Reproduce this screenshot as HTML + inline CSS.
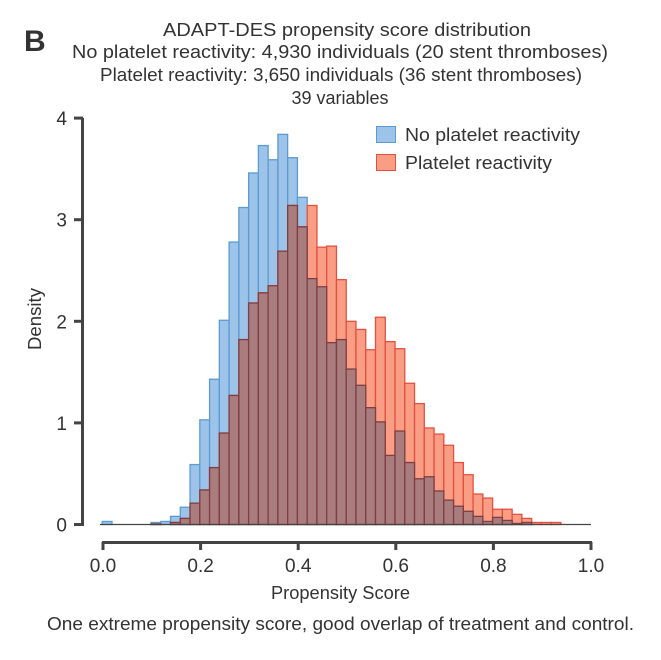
<!DOCTYPE html>
<html><head><meta charset="utf-8">
<style>
body{margin:0;background:#fff;width:661px;height:655px;overflow:hidden;font-family:"Liberation Sans","DejaVu Sans",sans-serif;}
svg text{font-family:"Liberation Sans","DejaVu Sans",sans-serif;fill:#333;}
</style></head>
<body>
<svg id="chart" width="661" height="655" viewBox="0 0 661 655" xmlns="http://www.w3.org/2000/svg">
<text x="24" y="51" font-size="30" font-weight="bold" fill="#222">B</text>
<g font-size="18">
<text x="163" y="36" textLength="368" lengthAdjust="spacingAndGlyphs">ADAPT-DES propensity score distribution</text>
<text x="72" y="58" textLength="536" lengthAdjust="spacingAndGlyphs">No platelet reactivity: 4,930 individuals (20 stent thromboses)</text>
<text x="100" y="81" textLength="482" lengthAdjust="spacingAndGlyphs">Platelet reactivity: 3,650 individuals (36 stent thromboses)</text>
<text x="340" y="104" text-anchor="middle">39 variables</text>
</g>
<g id="bars"></g>
<line x1="82.5" y1="118" x2="82.5" y2="526" stroke="#444" stroke-width="3"/>
<line x1="100" y1="524.5" x2="591" y2="524.5" stroke="#444" stroke-width="1.2"/>
<line x1="102" y1="542.5" x2="592" y2="542.5" stroke="#444" stroke-width="3"/>
<g id="yticks"></g>
<g id="xticks"></g>
<text transform="translate(41,319) rotate(-90)" text-anchor="middle" font-size="18" textLength="62" lengthAdjust="spacingAndGlyphs">Density</text>
<text x="271" y="599" font-size="18" textLength="139" lengthAdjust="spacingAndGlyphs">Propensity Score</text>
<text x="47" y="630" font-size="18" textLength="587" lengthAdjust="spacingAndGlyphs">One extreme propensity score, good overlap of treatment and control.</text>
<g>
<rect x="376.5" y="126.5" width="19" height="16" fill="#9dc3e8" stroke="#5b9bd5"/>
<text x="405" y="141" font-size="18" textLength="175" lengthAdjust="spacingAndGlyphs">No platelet reactivity</text>
<rect x="376.5" y="154.5" width="19" height="16" fill="#f99d85" stroke="#e2513f"/>
<text x="405" y="169" font-size="18" textLength="147" lengthAdjust="spacingAndGlyphs">Platelet reactivity</text>
</g>
</svg>
<script>
const binStart = -0.0016;
const binWidth = 0.02;
const noPR = [0.03,0,0,0,0,
0.02,0.03,0.08,0.17,0.59,1.03,1.43,2.01,2.78,3.12,3.46,3.73,3.59,3.84,3.61,3.22,2.42,2.34,1.79,1.82,1.53,1.37,1.15,1.01,0.68,0.92,0.61,0.45,0.47,0.33,0.24,0.18,0.13,0.08,0.03,0.07,0.04,0.01,0.02,0,0,0];
const PR = [0,0,0,0,0,
0.005,0,0.02,0.06,0.21,0.34,0.56,0.90,1.27,1.82,2.18,2.28,2.35,2.69,3.14,2.93,3.14,2.73,2.74,2.41,2.00,1.92,1.72,2.04,1.80,1.73,1.39,1.19,0.95,0.89,0.78,0.61,0.49,0.30,0.26,0.15,0.15,0.10,0.06,0.02,0.02,0.02];
const xTicks = [0.0,0.2,0.4,0.6,0.8,1.0];
const xTickLabels = ["0.0","0.2","0.4","0.6","0.8","1.0"];
const yTicks = [0,1,2,3,4];

const NS = "http://www.w3.org/2000/svg";
function X(v){return 103 + v*488;}
function Y(v){return 524.5 - v*101.6;}
const g = document.getElementById('bars');
function bar(i, v, fill, stroke, name){
  if(v<=0) return;
  const x0 = X(binStart + i*binWidth), x1 = X(binStart + (i+1)*binWidth);
  const r = document.createElementNS(NS,'rect');
  r.setAttribute('x', x0); r.setAttribute('width', x1-x0);
  r.setAttribute('y', Y(v)); r.setAttribute('height', Y(0)-Y(v));
  r.setAttribute('fill', fill); r.setAttribute('stroke', stroke); r.setAttribute('stroke-width','1.3');
  
  
  g.appendChild(r);
}
noPR.forEach((v,i)=>bar(i,v,'#9dc3e8','#5b9bd5','bar-no-platelet-reactivity'));
PR.forEach((v,i)=>bar(i,v,'#f99d85','#e2513f','bar-platelet-reactivity'));
PR.forEach((v,i)=>bar(i,Math.min(v,noPR[i]||0),'#a97c7e','#7e3e42','bar-overlap'));

const yt = document.getElementById('yticks');
yTicks.forEach(v=>{
  const l = document.createElementNS(NS,'line');
  l.setAttribute('x1',74); l.setAttribute('x2',83); l.setAttribute('y1',Y(v)); l.setAttribute('y2',Y(v));
  l.setAttribute('stroke','#444'); l.setAttribute('stroke-width','3');
  
  
  yt.appendChild(l);
  const t = document.createElementNS(NS,'text');
  t.setAttribute('x',67); t.setAttribute('y',Y(v)+7); t.setAttribute('text-anchor','end'); t.setAttribute('font-size','19');
  t.textContent = v;
  
  
  yt.appendChild(t);
});
const xt = document.getElementById('xticks');
xTicks.forEach((v,i)=>{
  const l = document.createElementNS(NS,'line');
  l.setAttribute('x1',X(v)); l.setAttribute('x2',X(v)); l.setAttribute('y1',542); l.setAttribute('y2',550);
  l.setAttribute('stroke','#444'); l.setAttribute('stroke-width','3');
  
  
  xt.appendChild(l);
  const t = document.createElementNS(NS,'text');
  t.setAttribute('x',X(v)); t.setAttribute('y',572); t.setAttribute('text-anchor','middle'); t.setAttribute('font-size','19');
  t.textContent = xTickLabels[i];
  
  
  xt.appendChild(t);
});
</script>
</body></html>
